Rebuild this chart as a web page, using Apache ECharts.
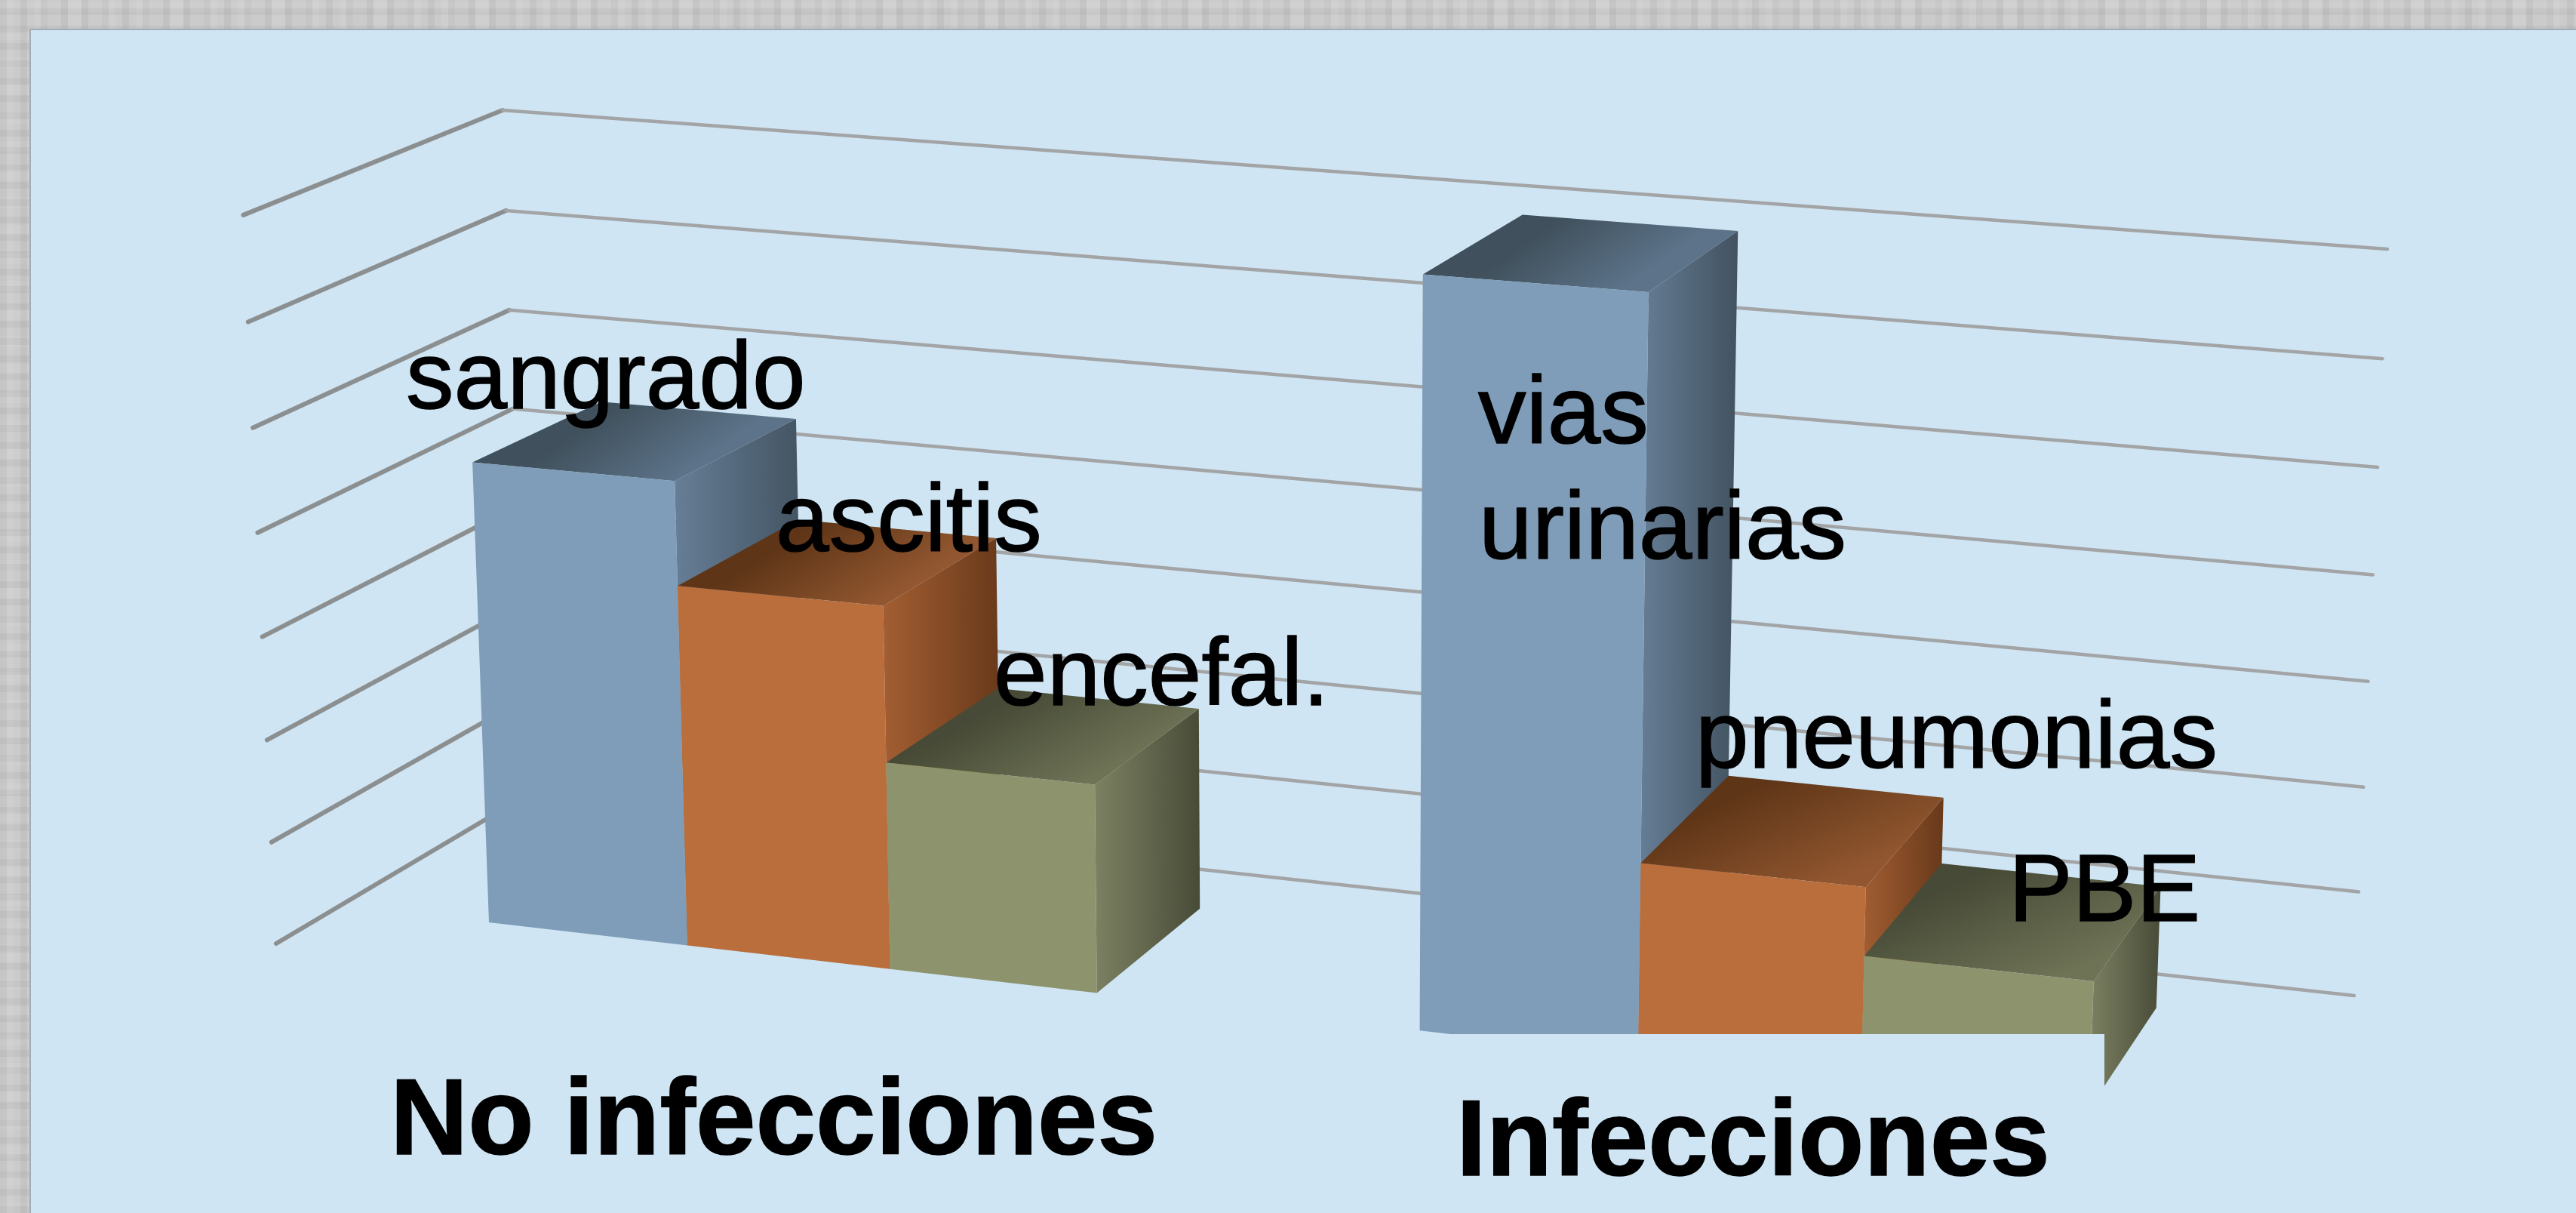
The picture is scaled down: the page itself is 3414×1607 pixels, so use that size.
<!DOCTYPE html>
<html>
<head>
<meta charset="utf-8">
<style>
html,body{margin:0;padding:0}
body{background:
  repeating-linear-gradient(90deg,rgba(0,0,0,.045) 0 9px,transparent 9px 27px),
  repeating-linear-gradient(90deg,rgba(255,255,255,.07) 0 18px,transparent 18px 45px),
  repeating-linear-gradient(0deg,rgba(0,0,0,.04) 0 9px,transparent 9px 23px),
  repeating-linear-gradient(0deg,rgba(255,255,255,.06) 0 14px,transparent 14px 37px),
  #cbcbcb}
#c{width:3414px;height:1607px}
</style>
<script src="https://cdn.jsdelivr.net/npm/echarts@6/dist/echarts.min.js"></script>
</head>
<body>
<div id="c"></div>
<script>
// ---- data ----
const categories = ['No infecciones', 'Infecciones'];
const yTicks = [0, 5, 10, 15, 20, 25, 30, 35];
const blueValues = [22.25, 34.6];
const orangeValues = [17.3, 8.95];
const oliveValues = [9.9, 5.8];
const blueNames = ['sangrado', 'vias\nurinarias'];
const orangeNames = ['ascitis', 'pneumonias'];
const oliveNames = ['encefal.', 'PBE'];

// ---- perspective frame (pixel anchors of the 3D box) ----
const A = [697, 1054], B = [3120, 1319], C = [666, 146], D = [3164, 330], E = [366, 1250];
function meet(p1, p2, p3, p4) {
  const a1 = p2[1] - p1[1], b1 = p1[0] - p2[0], c1 = a1 * p1[0] + b1 * p1[1];
  const a2 = p4[1] - p3[1], b2 = p3[0] - p4[0], c2 = a2 * p3[0] + b2 * p3[1];
  const det = a1 * b2 - a2 * b1;
  return [(c1 * b2 - c2 * b1) / det, (a1 * c2 - a2 * c1) / det];
}
const Vx = meet(A, B, C, D), Vy = meet(A, C, B, D);
const lx = (B[0] - A[0]) / (Vx[0] - B[0]);
const ly = (C[1] - A[1]) / (Vy[1] - C[1]);
function projector(t) {
  const Vz = [E[0] + t * (A[0] - E[0]), E[1] + t * (A[1] - E[1])], lz = -1 / t;
  return function (u, v, d) {
    const w = 1 + lx * u + ly * v + lz * d;
    return [(A[0] + lx * Vx[0] * u + ly * Vy[0] * v + lz * Vz[0] * d) / w,
            (A[1] + lx * Vx[1] * u + ly * Vy[1] * v + lz * Vz[1] * d) / w];
  };
}
const barP = projector(12.7), wallP = projector(15.8);
const UNIT = 1000, D_BACK = [0.23, 0.19], D_FRONT = 0.756, BAR_SHARE = 0.2213;

const FONT = '"Liberation Sans", Arial, sans-serif';
const LINE_DARK = '#8c8f90', LINE_LIGHT = '#a2a4a5';

const palette = [
  { front: '#7f9db8', top: ['#40505c', '#5c7389'], side: ['#667e96', '#425260'] },
  { front: '#ba6e3b', top: ['#5e3517', '#925730'], side: ['#a35e32', '#68391a'] },
  { front: '#8d936c', top: ['#464a36', '#6e7356'], side: ['#7c8162', '#484b37'] }
];

function bar(slot) {
  const pal = palette[slot];
  return function (params, api) {
    const g = api.value(0);
    const c = api.coord([g, api.value(1)]);
    const band = api.size([1, 0])[0];
    const u0 = (c[0] + (slot - 1.5) * BAR_SHARE * band) / UNIT;
    const u1 = u0 + BAR_SHARE * band / UNIT;
    const base = api.coord([g, 0]);
    const v = (base[1] - c[1]) / UNIT;
    const dB = D_BACK[g];
    const G = echarts.graphic.LinearGradient;
    const poly = (pts, fill) => ({ type: 'polygon', shape: { points: pts }, style: { fill: fill } });
    return {
      type: 'group',
      children: [
        poly([barP(u1, 0, D_FRONT), barP(u1, 0, dB), barP(u1, v, dB), barP(u1, v, D_FRONT)],
          new G(0, 0, 1, 0, [{ offset: 0, color: pal.side[0] }, { offset: 1, color: pal.side[1] }])),
        poly([barP(u0, v, D_FRONT), barP(u1, v, D_FRONT), barP(u1, v, dB), barP(u0, v, dB)],
          new G(0.45, 0, 0.62, 1, [{ offset: 0, color: pal.top[0] }, { offset: 1, color: pal.top[1] }])),
        poly([barP(u0, 0, D_FRONT), barP(u1, 0, D_FRONT), barP(u1, v, D_FRONT), barP(u0, v, D_FRONT)], pal.front)
      ]
    };
  };
}

function gridLine(params, api) {
  const c = api.coord([0, api.value(1)]), base = api.coord([0, 0]);
  const v = (base[1] - c[1]) / UNIT;
  const line = (pts, color, w) => ({ type: 'polyline', shape: { points: pts },
    style: { stroke: color, lineWidth: w, fill: null, lineCap: 'round' } });
  return { type: 'group', children: [
    line([wallP(0, v, 1), wallP(0, v, 0)], LINE_DARK, 6),
    line([wallP(0, v, 0), wallP(1, v, 0)], LINE_LIGHT, 4.5)
  ] };
}

// ---- hand-placed text (left x, baseline y) ----
const NORMAL = 127, BOLD = 143;
function labelEl(text, x, baseY, size, weight, strokeW) {
  return { type: 'text', x: x, y: baseY - 0.27 * size,
    style: { text: text, fill: '#000', font: weight + ' ' + size + 'px ' + FONT,
      stroke: '#000', lineWidth: strokeW, textAlign: 'left', verticalAlign: 'middle' } };
}
const labelSpots = [
  [blueNames[0], 538, 540], [orangeNames[0], 1028, 729], [oliveNames[0], 1317, 933],
  [blueNames[1].split('\n')[0], 1959, 586], [blueNames[1].split('\n')[1], 1960, 739],
  [orangeNames[1], 2247, 1016], [oliveNames[1], 2662, 1219]
];
const categorySpots = [[categories[0], 517, 1528], [categories[1], 1930, 1556]];

const option = {
  animation: false,
  backgroundColor: 'transparent',
  grid: { left: 0, top: 0, width: 0.9945 * UNIT, height: UNIT, containLabel: false },
  xAxis: { type: 'category', data: categories, show: false },
  yAxis: { type: 'value', min: 0, max: 35, interval: 5, show: false },
  graphic: { elements: [
    { type: 'rect', z: -5, shape: { x: 40, y: 39, width: 3380, height: 1570 },
      style: { fill: '#cfe5f3', stroke: '#a3adb5', lineWidth: 2 } },
    { type: 'rect', z: 50, shape: { x: 1860, y: 1370, width: 929, height: 240 }, style: { fill: '#cfe5f3' } }
  ] },
  series: [
    { type: 'custom', z: 1, data: yTicks.map(t => [0, t]), renderItem: gridLine, silent: true },
    { type: 'custom', z: 2, name: 'blue', data: blueValues.map((v, i) => [i, v]), renderItem: bar(0), silent: true },
    { type: 'custom', z: 3, name: 'orange', data: orangeValues.map((v, i) => [i, v]), renderItem: bar(1), silent: true },
    { type: 'custom', z: 4, name: 'olive', data: oliveValues.map((v, i) => [i, v]), renderItem: bar(2), silent: true },
    { type: 'custom', z: 60, data: [[0, 0]], silent: true, renderItem: () => ({ type: 'group', children:
      labelSpots.map(s => labelEl(s[0], s[1], s[2], NORMAL, 'normal', 1.5))
        .concat(categorySpots.map(s => labelEl(s[0], s[1], s[2], BOLD, 'bold', 1.5))) }) }
  ]
};
echarts.init(document.getElementById('c')).setOption(option);
</script>
</body>
</html>
